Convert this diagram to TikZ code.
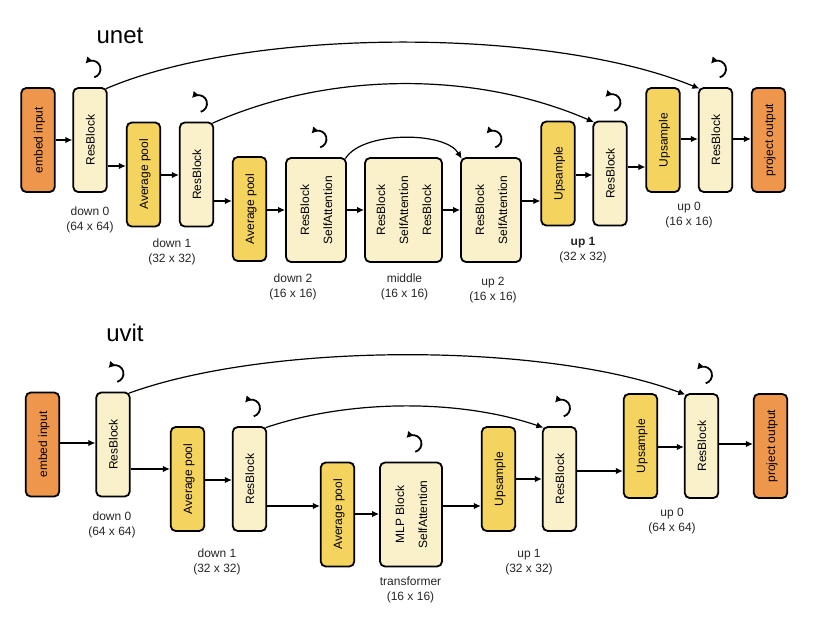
\documentclass[tikz,border=0pt]{standalone}
\usepackage{fontspec}
\setmainfont{Liberation Sans}
\usepackage{graphicx}
\usetikzlibrary{arrows.meta}
\definecolor{cOr}{HTML}{EE964B}
\definecolor{cYe}{HTML}{F4D35E}
\definecolor{cLi}{HTML}{FAF0CA}
\tikzset{
 bx/.style={draw=black, line width=1.8pt, rounded corners=5pt, inner sep=0pt,
   minimum width=33.5pt, minimum height=104pt, font=\fontsize{12}{23}\selectfont},
 orn/.style={bx, fill=cOr},
 yel/.style={bx, fill=cYe},
 lig/.style={bx, fill=cLi},
 arr/.style={-{Latex[length=7pt,width=6.5pt]}, line width=1.2pt},
 loopar/.style={-{Latex[length=6.5pt,width=7pt]}, line width=1.8pt},
 lbl/.style={align=center, font=\fontsize{12}{15}\selectfont, text=black!85},
 ttl/.style={font=\fontsize{24}{28}\selectfont}
}
\newcommand\rtext[1]{\rotatebox{90}{\begin{tabular}{@{}c@{}}#1\end{tabular}}}
\newcommand\harr[3]{\draw[arr] (#1.east |- 0,#3) -- (#2.west |- 0,#3);}
\newcommand\selfloop[1]{\draw[loopar] ([xshift=4.2pt,yshift=9.8pt]#1.north) arc[start angle=75,end angle=-140,radius=8.5];}
\begin{document}
\begin{tikzpicture}[x=1pt,y=-1pt]
\useasboundingbox (0,0) rectangle (818,616);
% ---------------- unet ----------------
\node[ttl] (t1) at (120,36) {unet};
\node[orn] (eA) at (38,140) {\rtext{embed input}};
\node[lig] (rb0) at (90,140) {\rtext{ResBlock}};
\node[yel] (ap1) at (143.5,174.5) {\rtext{Average pool}};
\node[lig] (rb1) at (196.5,174.5) {\rtext{ResBlock}};
\node[yel] (ap2) at (249.5,209) {\rtext{Average pool}};
\node[lig, minimum width=60pt] (d2) at (316,210) {\rtext{ResBlock\\SelfAttention}};
\node[lig, minimum width=77pt] (mid) at (403.5,210) {\rtext{ResBlock\\SelfAttention\\ResBlock}};
\node[lig, minimum width=60pt] (u2) at (491,210) {\rtext{ResBlock\\SelfAttention}};
\node[yel] (us1) at (558,173.5) {\rtext{Upsample}};
\node[lig] (rbu1) at (610,173.5) {\rtext{ResBlock}};
\node[yel] (us0) at (663,140) {\rtext{Upsample}};
\node[lig] (rbu0) at (715.5,140) {\rtext{ResBlock}};
\node[orn] (pA) at (768.5,140) {\rtext{project output}};

\harr{eA}{rb0}{140}
\harr{rb0}{ap1}{166}
\harr{ap1}{rb1}{175}
\harr{rb1}{ap2}{201}
\harr{ap2}{d2}{210}
\harr{d2}{mid}{210}
\harr{mid}{u2}{210}
\harr{u2}{us1}{201}
\harr{us1}{rbu1}{175}
\harr{rbu1}{us0}{167}
\harr{us0}{rbu0}{139}
\harr{rbu0}{pA}{139}

\selfloop{rb0}
\selfloop{rb1}
\selfloop{d2}
\selfloop{u2}
\selfloop{rbu1}
\selfloop{rbu0}

\draw[arr] ([xshift=-1.5pt,yshift=-1.5pt]rb0.north east) .. controls (250,27) and (550,27) .. ([xshift=1.5pt,yshift=-1.5pt]rbu0.north west);
\draw[arr] ([xshift=-1.5pt,yshift=-1.5pt]rb1.north east) .. controls (330,71) and (476,71) .. ([xshift=1.5pt,yshift=-1.5pt]rbu1.north west);
\draw[arr] ([xshift=-1.5pt,yshift=-1.5pt]d2.north east) .. controls (362,131) and (445,131) .. ([xshift=1.5pt,yshift=-1.5pt]u2.north west);

\node[lbl] (l1) at (90,220) {down 0\\(64 x 64)};
\node[lbl] (l2) at (172,252) {down 1\\(32 x 32)};
\node[lbl] (l3) at (293,287) {down 2\\(16 x 16)};
\node[lbl] (l4) at (404.5,287) {middle\\(16 x 16)};
\node[lbl] (l5) at (493,290) {up 2\\(16 x 16)};
\node[lbl] (l6) at (583,250) {{\bfseries up 1}\\(32 x 32)};
\node[lbl] (l7) at (689,215) {up 0\\(16 x 16)};

% ---------------- uvit ----------------
\node[ttl] (t2) at (125,333) {uvit};
\node[orn] (eB) at (42.5,444.5) {\rtext{embed input}};
\node[lig] (rbB0) at (113,444.5) {\rtext{ResBlock}};
\node[yel] (apB1) at (187.5,479) {\rtext{Average pool}};
\node[lig] (rbB1) at (249.5,479) {\rtext{ResBlock}};
\node[yel] (apB2) at (337.5,514.5) {\rtext{Average pool}};
\node[lig, minimum width=62pt] (tr) at (411,514.5) {\rtext{MLP Block\\SelfAttention}};
\node[yel] (usB1) at (498.5,479) {\rtext{Upsample}};
\node[lig] (rbBu1) at (559.5,479) {\rtext{ResBlock}};
\node[yel] (usB0) at (640.5,446) {\rtext{Upsample}};
\node[lig] (rbBu0) at (701.5,446) {\rtext{ResBlock}};
\node[orn] (pB) at (770.5,446) {\rtext{project output}};

\harr{eB}{rbB0}{443}
\harr{rbB0}{apB1}{469}
\harr{apB1}{rbB1}{480}
\harr{rbB1}{apB2}{506}
\harr{apB2}{tr}{514}
\harr{tr}{usB1}{506}
\harr{usB1}{rbBu1}{479}
\harr{rbBu1}{usB0}{471}
\harr{usB0}{rbBu0}{447}
\harr{rbBu0}{pB}{444}

\selfloop{rbB0}
\selfloop{rbB1}
\selfloop{tr}
\selfloop{rbBu1}
\selfloop{rbBu0}

\draw[arr] ([xshift=-1.5pt,yshift=-1.5pt]rbB0.north east) .. controls (270,342) and (545,342) .. ([xshift=1.5pt,yshift=-1.5pt]rbBu0.north west);
\draw[arr] ([xshift=-1.5pt,yshift=-1.5pt]rbB1.north east) .. controls (350,399) and (460,399) .. ([xshift=1.5pt,yshift=-1.5pt]rbBu1.north west);

\node[lbl] (m1) at (112,524.5) {down 0\\(64 x 64)};
\node[lbl] (m2) at (217,561.5) {down 1\\(32 x 32)};
\node[lbl] (m3) at (410.5,589.5) {transformer\\(16 x 16)};
\node[lbl] (m4) at (529,562.5) {up 1\\(32 x 32)};
\node[lbl] (m5) at (672,521.5) {up 0\\(64 x 64)};
\end{tikzpicture}
\end{document}
